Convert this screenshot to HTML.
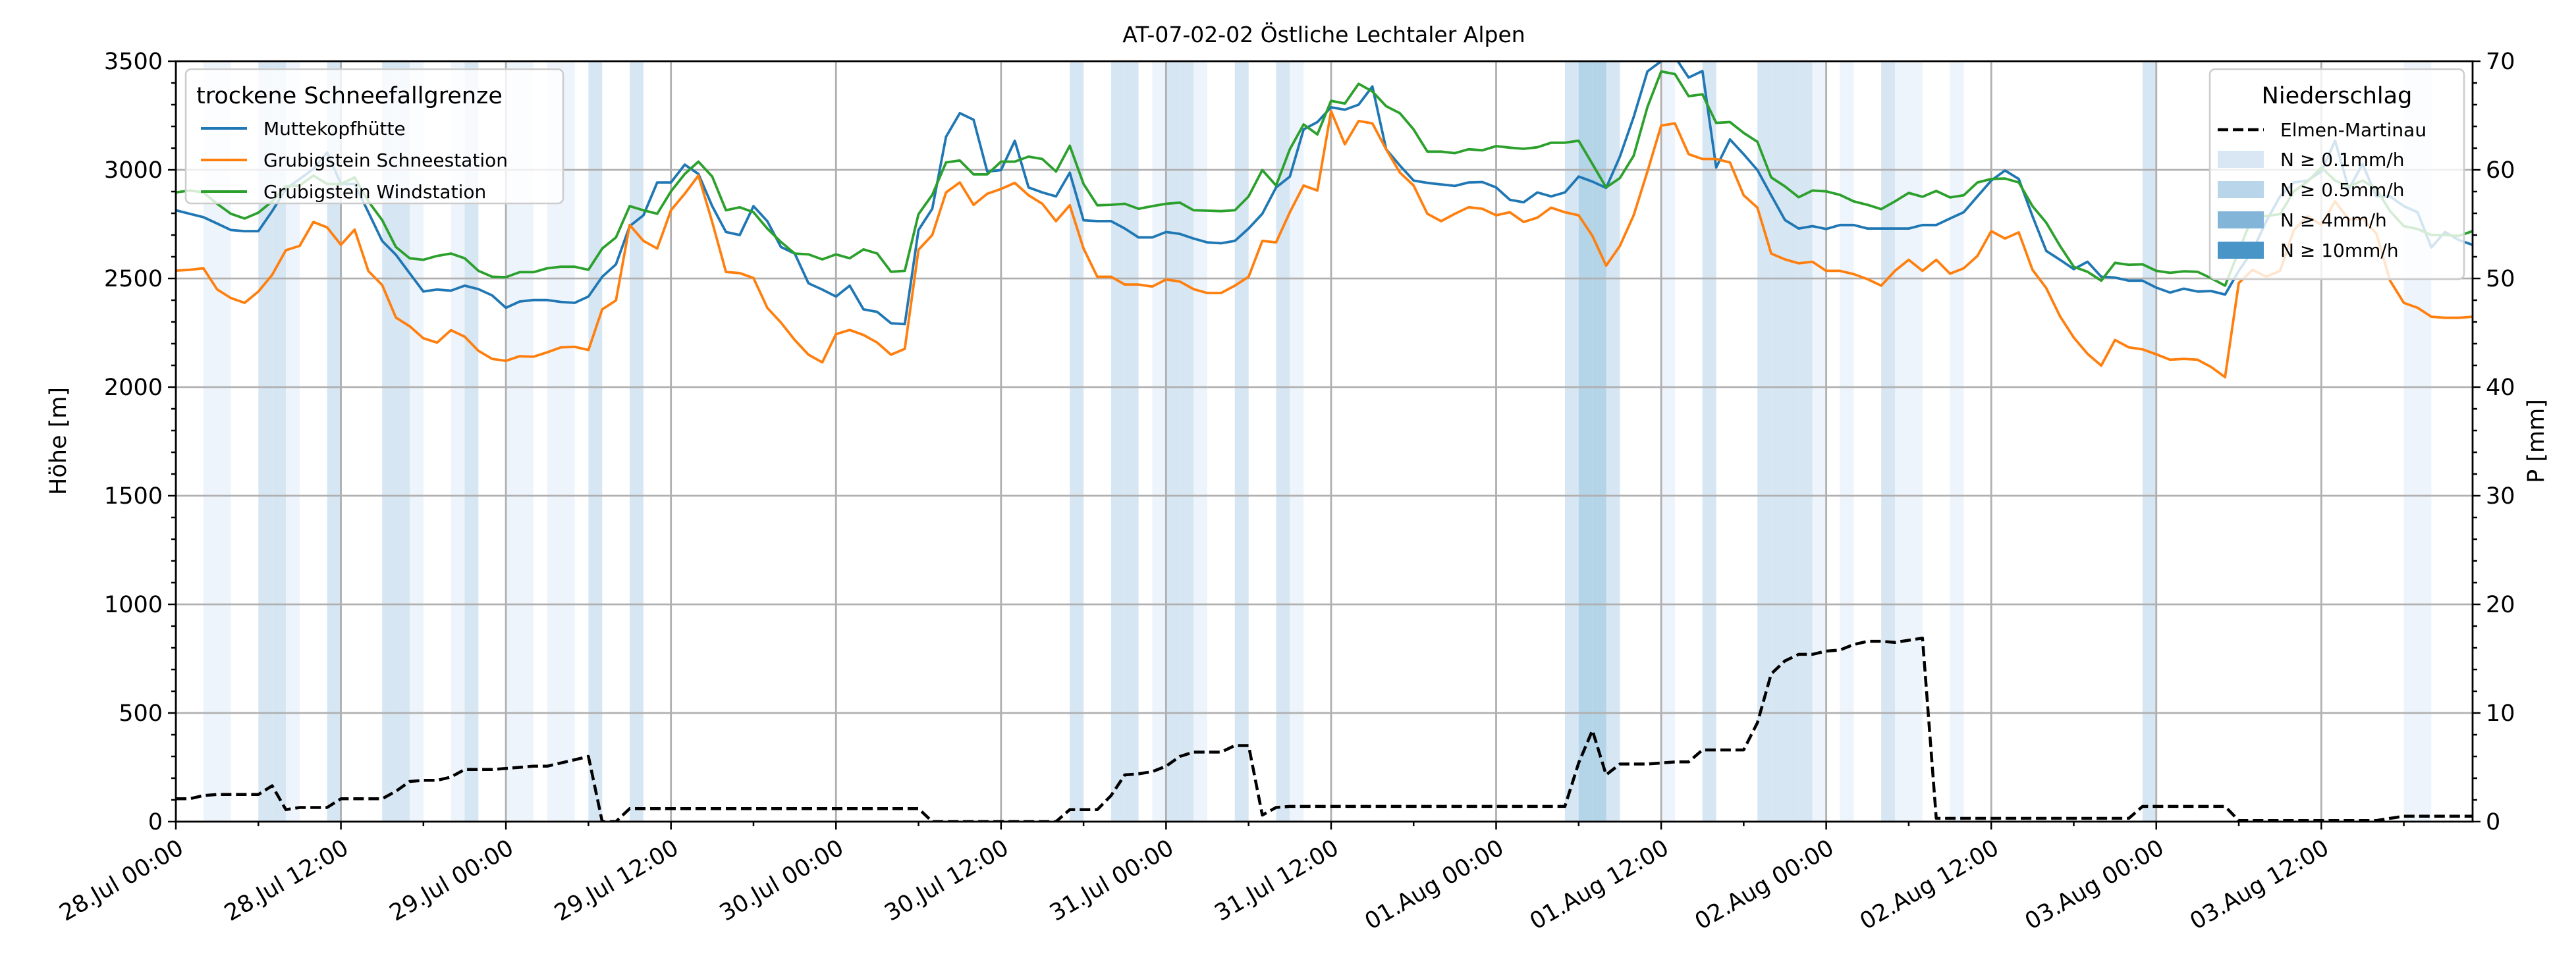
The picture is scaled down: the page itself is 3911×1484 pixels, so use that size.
<!DOCTYPE html>
<html><head><meta charset="utf-8">
<style>
html,body{margin:0;padding:0;background:#fff;}
svg{display:block;font-family:"DejaVu Sans","Liberation Sans",sans-serif;}
</style></head>
<body>
<svg id="chart" width="3911" height="1484" viewBox="0 0 3911 1484" xmlns="http://www.w3.org/2000/svg">
<rect width="3911" height="1484" fill="#fff"/>
<text x="2010" y="64" font-size="33" text-anchor="middle" fill="#000">AT-07-02-02 Östliche Lechtaler Alpen</text>
<g id="bands"></g><g id="grid"></g><g id="series"></g><g id="axes"></g><g id="legends"></g>
</svg>
<script>
const hoursMuttekopf = [2814,2798,2782,2753,2723,2718,2718,2810,2912,2958,3004,3080,2935,2935,2805,2673,2609,2524,2440,2449,2444,2467,2451,2422,2365,2394,2401,2401,2392,2388,2417,2508,2565,2741,2791,2942,2942,3024,2981,2833,2714,2700,2833,2764,2645,2615,2478,2449,2417,2467,2358,2346,2294,2290,2723,2821,3152,3261,3231,2992,2999,3134,2919,2896,2878,2987,2768,2764,2764,2730,2689,2689,2714,2705,2684,2666,2662,2673,2730,2798,2919,2969,3186,3220,3288,3277,3300,3384,3095,3020,2951,2940,2933,2926,2942,2944,2919,2862,2851,2896,2878,2896,2969,2946,2917,3061,3243,3453,3500,3520,3425,3455,3011,3140,3072,2999,2883,2769,2730,2741,2728,2746,2746,2730,2730,2730,2730,2746,2746,2776,2805,2878,2951,2997,2958,2787,2627,2586,2543,2577,2508,2504,2490,2490,2458,2435,2453,2440,2442,2426,2535,2627,2764,2878,2942,2951,2992,3134,2912,3027,2878,2878,2833,2805,2643,2714,2677,2655];
const hoursSchnee = [2536,2540,2547,2450,2410,2388,2440,2517,2630,2650,2760,2735,2655,2725,2534,2470,2320,2280,2225,2205,2262,2232,2167,2130,2121,2142,2140,2160,2183,2185,2171,2358,2399,2746,2673,2638,2814,2890,2974,2760,2530,2525,2502,2365,2297,2217,2149,2114,2244,2263,2240,2205,2149,2176,2632,2700,2896,2942,2839,2890,2912,2940,2883,2844,2764,2837,2638,2508,2508,2472,2472,2463,2495,2486,2451,2433,2433,2467,2508,2673,2666,2805,2928,2905,3270,3118,3225,3214,3095,2988,2928,2798,2764,2798,2828,2821,2791,2805,2760,2780,2826,2805,2791,2696,2559,2650,2791,2992,3204,3214,3072,3050,3050,3034,2883,2826,2615,2588,2570,2577,2535,2535,2520,2497,2467,2535,2586,2535,2586,2522,2547,2604,2718,2684,2712,2540,2456,2326,2228,2153,2099,2217,2183,2174,2151,2126,2130,2126,2092,2046,2479,2540,2508,2535,2723,2787,2746,2855,2771,2776,2707,2490,2388,2365,2324,2319,2319,2324];
const hoursWind = [2896,2905,2896,2844,2798,2776,2803,2855,2924,2928,2974,2935,2935,2965,2855,2769,2645,2593,2586,2604,2615,2593,2535,2508,2506,2529,2529,2547,2554,2554,2540,2638,2689,2833,2814,2798,2901,2981,3038,2969,2814,2828,2805,2730,2668,2615,2611,2588,2611,2593,2634,2615,2531,2535,2796,2885,3034,3043,2979,2979,3038,3038,3061,3050,2992,3111,2935,2837,2839,2844,2821,2833,2844,2849,2814,2812,2810,2814,2878,2999,2928,3095,3209,3163,3318,3305,3396,3361,3293,3261,3186,3084,3084,3077,3095,3090,3109,3102,3097,3104,3125,3125,3134,3027,2919,2962,3065,3289,3453,3441,3339,3348,3216,3220,3170,3129,2965,2924,2874,2905,2901,2885,2855,2839,2819,2855,2894,2876,2903,2873,2883,2942,2958,2960,2942,2833,2757,2650,2554,2531,2490,2572,2563,2565,2535,2526,2533,2531,2501,2467,2627,2787,2787,2796,2901,2946,3011,2951,2924,2951,2912,2810,2741,2728,2700,2700,2696,2718];
const precipElmen = [2.1,2.1,2.4,2.5,2.5,2.5,2.5,3.3,1.1,1.3,1.3,1.3,2.1,2.1,2.1,2.1,2.8,3.7,3.8,3.8,4.1,4.8,4.8,4.8,4.9,5.0,5.1,5.1,5.4,5.7,6.0,0,0,1.2,1.2,1.2,1.2,1.2,1.2,1.2,1.2,1.2,1.2,1.2,1.2,1.2,1.2,1.2,1.2,1.2,1.2,1.2,1.2,1.2,1.2,0,0,0,0,0,0,0,0,0,0,1.1,1.1,1.1,2.4,4.3,4.4,4.6,5.1,6.0,6.4,6.4,6.4,7.0,7.0,0.6,1.3,1.4,1.4,1.4,1.4,1.4,1.4,1.4,1.4,1.4,1.4,1.4,1.4,1.4,1.4,1.4,1.4,1.4,1.4,1.4,1.4,1.4,5.4,8.4,4.3,5.3,5.3,5.3,5.4,5.5,5.5,6.6,6.6,6.6,6.6,9.1,13.6,14.8,15.4,15.4,15.7,15.8,16.3,16.6,16.6,16.5,16.7,16.9,0.3,0.3,0.3,0.3,0.3,0.3,0.3,0.3,0.3,0.3,0.3,0.3,0.3,0.3,0.3,1.4,1.4,1.4,1.4,1.4,1.4,1.4,0.1,0.1,0.1,0.1,0.1,0.1,0.1,0.1,0.1,0.1,0.1,0.3,0.5,0.5,0.5,0.5,0.5,0.5];
const bandHours = [2,3,6,7,8,11,15,16,17,20,21,24,25,27,28,30,33,65,68,69,71,72,73,74,77,80,81,101,102,103,104,108,111,115,116,117,118,119,121,124,125,126,129,143,162,163];
const bandClass = [1,1,2,2,1,2,2,2,1,1,2,1,1,1,1,2,2,2,2,2,1,2,2,1,2,2,1,2,3,3,2,1,2,2,2,2,2,1,1,2,1,1,1,2,1,1];
const xTickLabels = ["28.Jul 00:00","28.Jul 12:00","29.Jul 00:00","29.Jul 12:00","30.Jul 00:00","30.Jul 12:00","31.Jul 00:00","31.Jul 12:00","01.Aug 00:00","01.Aug 12:00","02.Aug 00:00","02.Aug 12:00","03.Aug 00:00","03.Aug 12:00"];
const yTicks = [0,500,1000,1500,2000,2500,3000,3500];
const pTicks = [0,10,20,30,40,50,60,70];

const NS="http://www.w3.org/2000/svg";
const L=267,R=3754,T=93,B=1248,XMAX=167;
const xs=h=>L+(h/XMAX)*(R-L);
const ys=v=>B-(v/3500)*(B-T);
const yp=v=>B-(v/70)*(B-T);
function mk(tag,attrs,parent){const e=document.createElementNS(NS,tag);for(const k in attrs)e.setAttribute(k,attrs[k]);parent.appendChild(e);return e;}
const gB=document.getElementById('bands'),gG=document.getElementById('grid'),gS=document.getElementById('series'),gA=document.getElementById('axes'),gL=document.getElementById('legends');
const bandCol={1:"#eef4fb",2:"#d7e6f3",3:"#b4d4e8"};
bandHours.forEach((h,i)=>{
  const r=mk('rect',{x:xs(h),y:T,width:xs(h+1)-xs(h),height:B-T,fill:bandCol[bandClass[i]]},gB);
  
  
});
yTicks.forEach(v=>{
  const l=mk('line',{x1:L,x2:R,y1:ys(v),y2:ys(v),stroke:"#b0b0b0","stroke-width":2.8},gG);
  
  
});
xTickLabels.forEach((t,i)=>{
  const l=mk('line',{x1:xs(i*12),x2:xs(i*12),y1:T,y2:B,stroke:"#b0b0b0","stroke-width":2.8},gG);
  
  
});
function poly(vals,scale,color,name,dash){
  const pts=vals.map((v,i)=>xs(i).toFixed(1)+","+scale(v).toFixed(1)).join(" ");
  const p=mk('polyline',{points:pts,fill:"none",stroke:color,"stroke-width":dash?4.5:3.8,"stroke-linejoin":"round"},gS);
  if(dash)p.setAttribute('stroke-dasharray','16 7');
  
  
}
const clip=mk('clipPath',{id:'pc'},document.getElementById('chart'));
mk('rect',{x:L,y:T,width:R-L,height:B-T},clip);
gS.setAttribute('clip-path','url(#pc)');
poly(hoursMuttekopf,ys,"#1f77b4","line-muttekopfhuette");
poly(hoursSchnee,ys,"#ff7f0e","line-grubigstein-schneestation");
poly(hoursWind,ys,"#2ca02c","line-grubigstein-windstation");
poly(precipElmen,yp,"#000","line-elmen-martinau",true);
const fr=mk('rect',{x:L,y:T,width:R-L,height:B-T,fill:"none",stroke:"#000","stroke-width":2.8},gA);


for(let v=0;v<=3500;v+=100){const major=v%500===0;mk('line',{x1:L,x2:L-(major?12:7),y1:ys(v),y2:ys(v),stroke:"#000","stroke-width":2.5},gA);}
yTicks.forEach(v=>{
  const t=mk('text',{x:L-20,y:ys(v)+12,"font-size":35,"text-anchor":"end"},gA);t.textContent=v;
  
  
});
for(let v=0;v<=70;v+=2){const major=v%10===0;mk('line',{x1:R,x2:R+(major?12:7),y1:yp(v),y2:yp(v),stroke:"#000","stroke-width":2.5},gA);}
pTicks.forEach(v=>{
  const t=mk('text',{x:R+20,y:yp(v)+12,"font-size":35,"text-anchor":"start"},gA);t.textContent=v;
  
  
});
for(let h=0;h<=XMAX;h+=6){const major=h%12===0;mk('line',{x1:xs(h),x2:xs(h),y1:B,y2:B+(major?12:7),stroke:"#000","stroke-width":2.5},gA);}
xTickLabels.forEach((s,i)=>{
  const x=xs(i*12)+2,y=B+26;
  const t=mk('text',{x:x,y:y,"font-size":35,"text-anchor":"end",transform:`rotate(-30 ${x} ${y}) translate(0 24)`},gA);t.textContent=s;
  
  
});
const yl=mk('text',{x:100,y:670,"font-size":35,"text-anchor":"middle",transform:"rotate(-90 100 670)"},gA);yl.textContent="Höhe [m]";


const yr=mk('text',{x:3862,y:670,"font-size":35,"text-anchor":"middle",transform:"rotate(-90 3862 670)"},gA);yr.textContent="P [mm]";


const lg=mk('g',{},gL);


mk('rect',{x:282,y:105,width:573,height:204,rx:8,fill:"#fff","fill-opacity":0.8,stroke:"#ccc","stroke-width":2.5},lg);
const lt=mk('text',{x:298,y:157,"font-size":35},lg);lt.textContent="trockene Schneefallgrenze";
[["Muttekopfhütte","#1f77b4"],["Grubigstein Schneestation","#ff7f0e"],["Grubigstein Windstation","#2ca02c"]].forEach((e,i)=>{
  const y=195+i*48;
  const g=mk('g',{},lg);
  
  
  mk('line',{x1:305,x2:375,y1:y,y2:y,stroke:e[1],"stroke-width":4},g);
  const t=mk('text',{x:400,y:y+10,"font-size":28},g);t.textContent=e[0];
});
const rg=mk('g',{},gL);


mk('rect',{x:3355,y:105,width:386,height:319,rx:8,fill:"#fff","fill-opacity":0.8,stroke:"#ccc","stroke-width":2.5},rg);
const rt=mk('text',{x:3548,y:157,"font-size":35,"text-anchor":"middle"},rg);rt.textContent="Niederschlag";
{const g=mk('g',{},rg);


mk('line',{x1:3367,x2:3437,y1:197,y2:197,stroke:"#000","stroke-width":4.5,"stroke-dasharray":"16 7"},g);
const t=mk('text',{x:3462,y:207,"font-size":28},g);t.textContent="Elmen-Martinau";}
[["N ≥ 0.1mm/h","#d9e7f4"],["N ≥ 0.5mm/h","#b8d5ea"],["N ≥ 4mm/h","#82b5d8"],["N ≥ 10mm/h","#4a95c8"]].forEach((e,i)=>{
  const y=242+i*46;
  const g=mk('g',{},rg);
  
  
  mk('rect',{x:3367,y:y-13,width:70,height:26,fill:e[1]},g);
  const t=mk('text',{x:3462,y:y+10,"font-size":28},g);t.textContent=e[0];
});
</script>
</body></html>
